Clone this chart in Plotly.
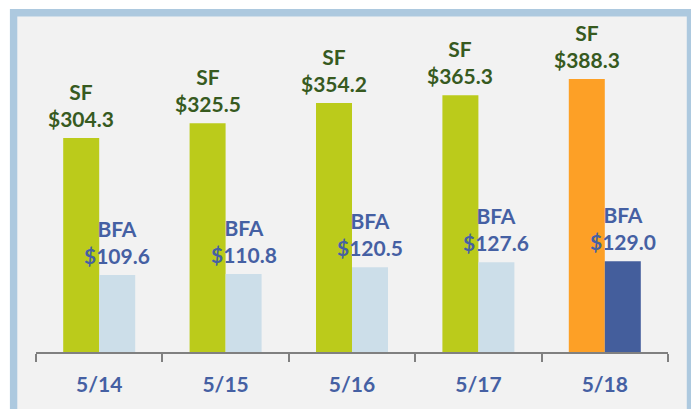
import plotly.graph_objects as go

# Weekly totals (in $ millions) for two series
periods = ["5/14", "5/15", "5/16", "5/17", "5/18"]
sf_values = [304.3, 325.5, 354.2, 365.3, 388.3]
bfa_values = [109.6, 110.8, 120.5, 127.6, 129.0]

# Colours: the latest period is highlighted
sf_colors = ["#BBCB1B"] * 4 + ["#FDA026"]
bfa_colors = ["#CCDEE9"] * 4 + ["#445E9C"]
SF_TEXT = "#375A1F"
BFA_TEXT = "#4560A3"
FONT = "Lato"

W, H = 691, 409
M_L, M_R, M_T, M_B = 36, 23, 17, 57
PLOT_W = W - M_L - M_R
PLOT_H = H - M_T - M_B
Y_MAX = 476.5


def px_x(px):
    return (px - M_L) / PLOT_W


def px_y(py):
    return (H - M_B - py) / PLOT_H


fig = go.Figure()
fig.add_trace(go.Bar(x=periods, y=sf_values, name="SF",
                     marker=dict(color=sf_colors, line=dict(width=0))))
fig.add_trace(go.Bar(x=periods, y=bfa_values, name="BFA",
                     marker=dict(color=bfa_colors, line=dict(width=0))))

annotations = []
for p, sf, bfa in zip(periods, sf_values, bfa_values):
    annotations.append(dict(
        x=p, y=sf, xref="x", yref="y", xshift=-18, yshift=5,
        text=f"SF<br>${sf:.1f}", showarrow=False, yanchor="bottom",
        font=dict(family=FONT, size=21, color=SF_TEXT, weight="bold"),
    ))
    annotations.append(dict(
        x=p, y=bfa, xref="x", yref="y", xshift=18, yshift=5,
        text=f"BFA<br>${bfa:.1f}", showarrow=False, yanchor="bottom",
        font=dict(family=FONT, size=21, color=BFA_TEXT, weight="bold"),
    ))

# Light blue frame around a light grey panel
frame = dict(
    type="rect", xref="paper", yref="paper", layer="below",
    x0=px_x(13.6), x1=px_x(690.5), y0=px_y(440), y1=px_y(12.8),
    line=dict(color="#ADC9DF", width=7.4), fillcolor="#F2F2F2",
)

fig.update_layout(
    width=W, height=H,
    margin=dict(l=M_L, r=M_R, t=M_T, b=M_B),
    paper_bgcolor="white", plot_bgcolor="rgba(0,0,0,0)",
    barmode="group", bargap=1 - 72 / (PLOT_W / 5), bargroupgap=0,
    showlegend=False,
    annotations=annotations,
    shapes=[frame],
    xaxis=dict(
        showline=True, linecolor="#808080", linewidth=2,
        ticks="outside", tickson="boundaries", ticklen=8, tickwidth=2,
        tickcolor="#808080", showgrid=False,
        tickfont=dict(family=FONT, size=21, color=BFA_TEXT, weight="bold"),
        ticklabelstandoff=13,
    ),
    yaxis=dict(range=[0, Y_MAX], visible=False, showgrid=False),
)

fig.write_html("out.html")
